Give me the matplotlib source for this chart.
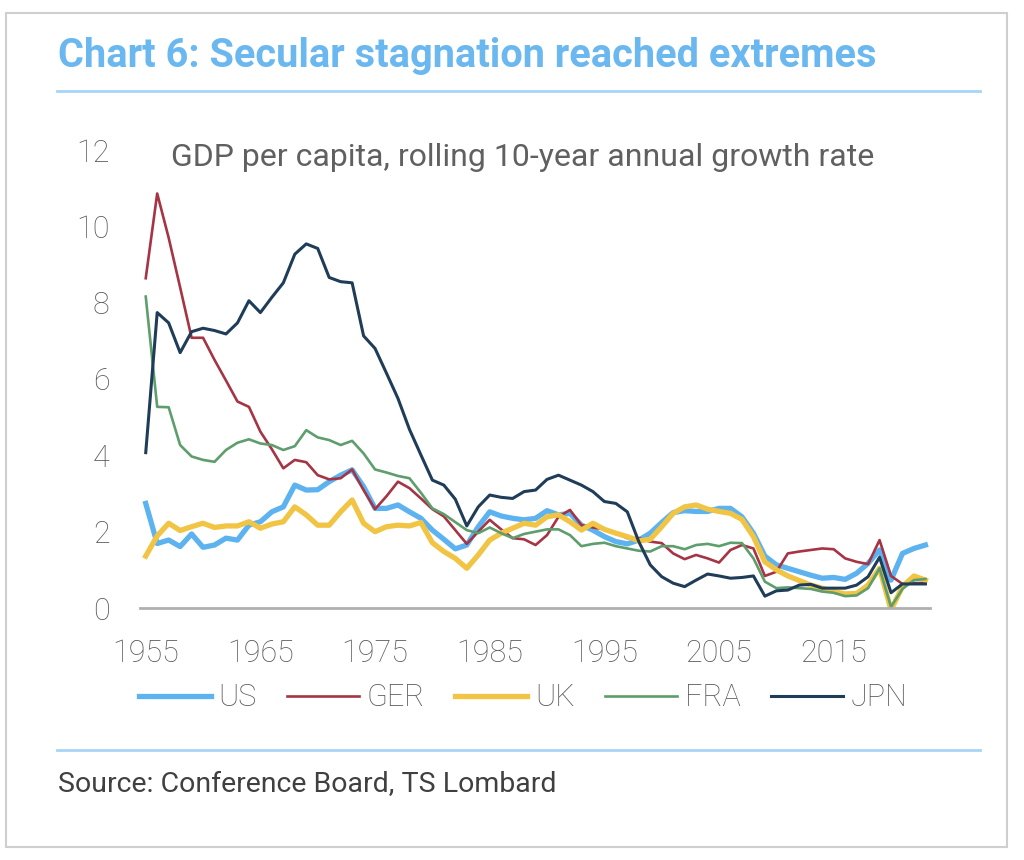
import numpy as np
import matplotlib.pyplot as plt
from matplotlib.patches import Rectangle
from matplotlib.lines import Line2D

years = list(range(1955, 2024))

us = [2.74, 1.69, 1.78, 1.61, 1.94, 1.59, 1.65, 1.83, 1.78, 2.17,
      2.26, 2.52, 2.65, 3.22, 3.09, 3.10, 3.31, 3.48, 3.62, 3.18,
      2.61, 2.61, 2.70, 2.52, 2.35, 2.04, 1.80, 1.55, 1.65, 2.13,
      2.52, 2.41, 2.35, 2.31, 2.35, 2.55, 2.44, 2.48, 2.17, 2.04,
      1.87, 1.74, 1.68, 1.78, 1.96, 2.24, 2.50, 2.55, 2.53, 2.53,
      2.61, 2.61, 2.39, 1.96, 1.36, 1.13, 1.04, 0.95, 0.86, 0.78,
      0.80, 0.75, 0.91, 1.17, 1.52, 0.73, 1.43, 1.56, 1.65]

ger = [8.64, 10.86, 9.70, 8.40, 7.08, 7.08, 6.50, 5.96, 5.41, 5.27,
       4.62, 4.16, 3.66, 3.88, 3.82, 3.48, 3.37, 3.40, 3.63, 3.09,
       2.59, 2.93, 3.31, 3.14, 2.87, 2.59, 2.40, 2.04, 1.68, 2.00,
       2.31, 2.06, 1.83, 1.80, 1.65, 1.91, 2.39, 2.57, 2.17, 2.11,
       2.06, 1.96, 1.83, 1.83, 1.74, 1.70, 1.43, 1.28, 1.39, 1.30,
       1.19, 1.52, 1.65, 1.56, 0.84, 0.95, 1.43, 1.48, 1.52, 1.56,
       1.54, 1.30, 1.21, 1.15, 1.78, 0.84, 0.63, 0.65, 0.66]

uk = [1.36, 1.89, 2.22, 2.03, 2.13, 2.22, 2.11, 2.15, 2.15, 2.26,
      2.09, 2.20, 2.26, 2.65, 2.44, 2.17, 2.17, 2.52, 2.83, 2.22,
      2.00, 2.13, 2.17, 2.15, 2.24, 1.71, 1.48, 1.30, 1.04, 1.39,
      1.78, 1.96, 2.09, 2.22, 2.17, 2.39, 2.44, 2.26, 2.04, 2.22,
      2.06, 1.96, 1.87, 1.76, 1.80, 2.13, 2.48, 2.65, 2.70, 2.59,
      2.53, 2.48, 2.32, 1.87, 1.21, 1.00, 0.84, 0.72, 0.60, 0.52,
      0.43, 0.37, 0.38, 0.60, 1.04, -0.05, 0.56, 0.84, 0.73]

fra = [8.16, 5.27, 5.26, 4.27, 3.97, 3.88, 3.83, 4.14, 4.33, 4.42,
       4.31, 4.27, 4.14, 4.24, 4.66, 4.47, 4.40, 4.27, 4.38, 4.05,
       3.63, 3.55, 3.46, 3.40, 3.02, 2.61, 2.46, 2.25, 2.04, 1.96,
       2.11, 1.96, 1.83, 1.94, 2.00, 2.06, 2.06, 1.91, 1.62, 1.68,
       1.71, 1.62, 1.56, 1.50, 1.48, 1.62, 1.62, 1.54, 1.65, 1.68,
       1.62, 1.71, 1.70, 1.30, 0.69, 0.52, 0.54, 0.52, 0.50, 0.43,
       0.40, 0.31, 0.33, 0.52, 1.04, 0.03, 0.50, 0.73, 0.76]

jpn = [4.07, 7.74, 7.47, 6.69, 7.24, 7.33, 7.27, 7.18, 7.47, 8.05,
       7.74, 8.14, 8.52, 9.27, 9.54, 9.42, 8.66, 8.55, 8.52, 7.13,
       6.80, 6.15, 5.49, 4.68, 4.01, 3.35, 3.22, 2.85, 2.15, 2.65,
       2.96, 2.90, 2.87, 3.05, 3.09, 3.37, 3.48, 3.35, 3.22, 3.05,
       2.79, 2.74, 2.52, 1.74, 1.13, 0.82, 0.65, 0.56, 0.73, 0.89,
       0.84, 0.78, 0.80, 0.84, 0.31, 0.45, 0.47, 0.60, 0.62, 0.52,
       0.52, 0.52, 0.60, 0.82, 1.33, 0.40, 0.63, 0.63, 0.63]

names = ['US', 'GER', 'UK', 'FRA', 'JPN']
colors = ['#5DB3F0', '#A53444', '#F2C443', '#5E9E6C', '#1F3D58']
widths = [3.8, 1.9, 3.8, 1.9, 2.2]

plt.rcParams['font.family'] = ['Roboto', 'DejaVu Sans']
txt = '#595959'
blue = '#6BB8F0'

fig = plt.figure(figsize=(10.24, 8.6), dpi=100)
W, H = 1024, 860

# outer frame
fig.patches.append(Rectangle((6 / W, 1 - 847 / H), 1001 / W, 834 / H,
                             transform=fig.transFigure, fill=False,
                             edgecolor='#CFCFCF', linewidth=1.5))

fig.text(58 / W, 1 - 56 / H, 'Chart 6: Secular stagnation reached extremes',
         color=blue, fontsize=28.6, fontweight='bold', va='center', ha='left')
fig.add_artist(Line2D([57 / W, 980 / W], [1 - 91 / H, 1 - 91 / H],
                      color='#A6D5F7', linewidth=2))
fig.add_artist(Line2D([57 / W, 980 / W], [1 - 750 / H, 1 - 750 / H],
                      color='#A6D5F7', linewidth=2))
fig.text(58 / W, 1 - 785 / H, 'Source: Conference Board, TS Lombard',
         color='#404040', fontsize=20.5, va='center', ha='left')

ax = fig.add_axes([140 / W, 1 - 608 / H, 790 / W, 458 / H])
series = [us, ger, uk, fra, jpn]
for vals, name, c, lw in zip(series, names, colors, widths):
    ax.plot(years, vals, color=c, linewidth=lw, label=name,
            solid_joinstyle='round')

ax.set_xlim(1954.5, 2023.4)
ax.set_ylim(0, 12)
ax.set_yticks(range(0, 13, 2))
ax.set_xticks(range(1955, 2020, 10))
for s in ['top', 'right', 'left']:
    ax.spines[s].set_visible(False)
ax.spines['bottom'].set_color('#B0B0B0')
ax.spines['bottom'].set_linewidth(2)
ax.tick_params(axis='both', length=0, labelsize=22, labelcolor=txt)
ax.tick_params(axis='y', pad=22)
ax.tick_params(axis='x', pad=22)
for lab in ax.get_xticklabels() + ax.get_yticklabels():
    lab.set_fontweight('light')

ax.text((523 - 140) / 790, 1 - 8 / 458,
        'GDP per capita, rolling 10-year annual growth rate',
        transform=ax.transAxes, ha='center', va='center', fontsize=23,
        color='#606060', fontweight='normal')

leg = ax.legend(loc='center', bbox_to_anchor=(523 / W, 1 - 698 / H),
                bbox_transform=fig.transFigure, ncol=5, frameon=False,
                fontsize=22, handlelength=2.35, handletextpad=0.25,
                columnspacing=1.0)
for t in leg.get_texts():
    t.set_color(txt)
    t.set_fontweight('light')

fig.savefig('out.png', dpi=100)
